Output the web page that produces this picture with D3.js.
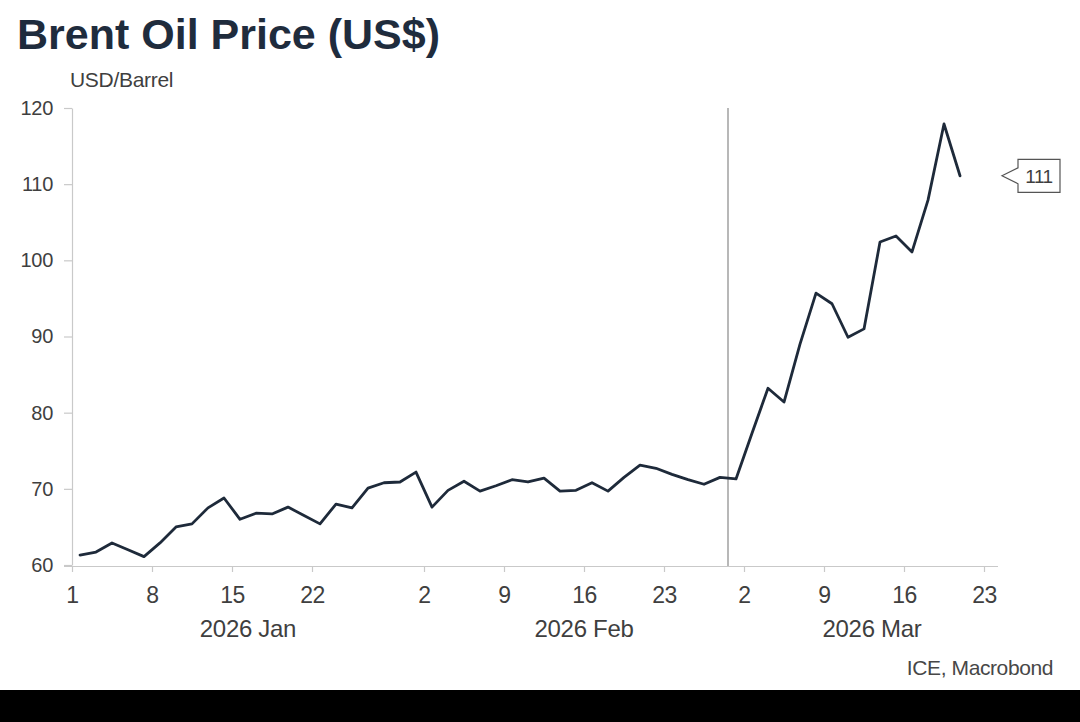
<!DOCTYPE html>
<html>
<head>
<meta charset="utf-8">
<script src="https://cdn.jsdelivr.net/npm/d3@7"></script>
<style>
  html, body { margin: 0; padding: 0; background: #fff; }
  svg { display: block; font-family: "Liberation Sans", Arial, sans-serif; }
</style>
</head>
<body>
<svg id="chart" width="1080" height="722"></svg>
<script>
// ---- data ----
const dates = [
  "2026-01-01","2026-01-02","2026-01-05","2026-01-06","2026-01-07","2026-01-08","2026-01-09",
  "2026-01-12","2026-01-13","2026-01-14","2026-01-15","2026-01-16",
  "2026-01-19","2026-01-20","2026-01-21","2026-01-22","2026-01-23",
  "2026-01-26","2026-01-27","2026-01-28","2026-01-29","2026-01-30",
  "2026-02-02","2026-02-03","2026-02-04","2026-02-05","2026-02-06",
  "2026-02-09","2026-02-10","2026-02-11","2026-02-12","2026-02-13",
  "2026-02-16","2026-02-17","2026-02-18","2026-02-19","2026-02-20",
  "2026-02-23","2026-02-24","2026-02-25","2026-02-26","2026-02-27",
  "2026-03-02","2026-03-03","2026-03-04","2026-03-05","2026-03-06",
  "2026-03-09","2026-03-10","2026-03-11","2026-03-12","2026-03-13",
  "2026-03-16","2026-03-17","2026-03-18","2026-03-19"
];
const brent = [
  61.3, 61.7, 62.9, 62.0, 61.1, 62.9, 65.0,
  65.4, 67.5, 68.8, 66.0, 66.8,
  66.7, 67.6, 66.5, 65.4, 68.0,
  67.5, 70.1, 70.8, 70.9, 72.2,
  67.6, 69.8, 71.0, 69.7, 70.4,
  71.2, 70.9, 71.4, 69.7, 69.8,
  70.8, 69.7, 71.5, 73.1, 72.7,
  71.9, 71.2, 70.6, 71.5, 71.3,
  77.3, 83.2, 81.4, 89.0, 95.7,
  94.3, 89.9, 91.0, 102.4, 103.2,
  101.1, 107.9, 117.9, 111.1
];
const xTickDates = ["2026-01-01","2026-01-08","2026-01-15","2026-01-22",
  "2026-02-02","2026-02-09","2026-02-16","2026-02-23",
  "2026-03-02","2026-03-09","2026-03-16","2026-03-23"];
const monthLabels = ["2026 Jan","2026 Feb","2026 Mar"];
const monthStarts = ["2026-01-01","2026-02-01","2026-03-01","2026-03-24"];
const yTicks = [60, 70, 80, 90, 100, 110, 120];
const eventDate = "2026-02-27";
const lastLabel = "111";
const title = "Brent Oil Price (US$)";
const unitLabel = "USD/Barrel";
const source = "ICE, Macrobond";

// ---- business-day index (weekdays counted from 2026-01-01) ----
const parse = d3.utcParse("%Y-%m-%d");
const origin = parse("2026-01-01");
function bizIndex(s) {
  const d = parse(s);
  return d3.utcDays(origin, d).filter(t => t.getUTCDay() !== 0 && t.getUTCDay() !== 6).length;
}

const svg = d3.select("#chart");
const navy = "#1e2a3a";
const axisGray = "#c9c9c9";
const textGray = "#3f3f3f";
const ff = "'Liberation Sans', Arial, sans-serif";

const x = d3.scaleLinear().domain([0, 58]).range([72, 1000]);
const y = d3.scaleLinear().domain([60, 120]).range([565, 108]);

// title
svg.append("text").attr("x", 17).attr("y", 49)
  .attr("font-size", 43).attr("font-weight", "bold").attr("fill", "#1f2c3d")
  .text(title);
svg.append("text").attr("x", 70).attr("y", 87)
  .attr("font-size", 21).attr("fill", textGray).attr("letter-spacing", -0.3)
  .text(unitLabel);

// y axis
const yAxis = svg.append("g").attr("transform", "translate(72,0)")
  .call(d3.axisLeft(y).tickValues(yTicks).tickSize(8).tickPadding(11).tickSizeOuter(0));
yAxis.select(".domain").attr("stroke", axisGray).attr("stroke-width", 1.2);
yAxis.selectAll(".tick line").attr("stroke", axisGray).attr("stroke-width", 1.2);
yAxis.selectAll(".tick text").attr("font-size", 20).attr("fill", textGray)
  .attr("font-family", ff).attr("letter-spacing", -0.3);

// x axis
const xAxis = svg.append("g").attr("transform", "translate(0,566)")
  .call(d3.axisBottom(x)
    .tickValues(xTickDates.map(bizIndex))
    .tickFormat((d, i) => String(parse(xTickDates[i]).getUTCDate()))
    .tickSize(6).tickPadding(15).tickSizeOuter(0));
xAxis.select(".domain").attr("stroke", axisGray).attr("stroke-width", 1.2)
  .attr("d", `M64,0.5H${x(58) - 2}`);
xAxis.selectAll(".tick line").attr("stroke", axisGray).attr("stroke-width", 1.2);
xAxis.selectAll(".tick text").attr("font-size", 23).attr("fill", textGray)
  .attr("font-family", ff).attr("letter-spacing", -0.5);

// month labels
monthLabels.forEach((m, i) => {
  const a = x(bizIndex(monthStarts[i]));
  const b = x(bizIndex(monthStarts[i + 1]));
  svg.append("text").attr("x", (a + b) / 2).attr("y", 637)
    .attr("text-anchor", "middle").attr("font-size", 24).attr("fill", textGray)
    .attr("letter-spacing", -0.3)
    .text(m);
});

// event line
svg.append("line")
  .attr("x1", x(bizIndex(eventDate))).attr("x2", x(bizIndex(eventDate)))
  .attr("y1", y(120)).attr("y2", 566)
  .attr("stroke", "#9a9a9a").attr("stroke-width", 1.4);

// series line
const line = d3.line()
  .x((d, i) => x(bizIndex(dates[i]) + 0.5))
  .y(d => y(d));
svg.append("path").datum(brent)
  .attr("d", line)
  .attr("fill", "none").attr("stroke", navy).attr("stroke-width", 2.8)
  .attr("stroke-linejoin", "round").attr("stroke-linecap", "round");

// last value callout
const lastVal = brent[brent.length - 1];
const ly = y(lastVal);
const tipX = 1002, bx0 = 1018, bx1 = 1060, bh = 33;
svg.append("path")
  .attr("d", `M${tipX},${ly} L${bx0},${ly - 8} L${bx0},${ly - bh / 2} L${bx1},${ly - bh / 2} L${bx1},${ly + bh / 2} L${bx0},${ly + bh / 2} L${bx0},${ly + 8} Z`)
  .attr("fill", "#fff").attr("stroke", "#555").attr("stroke-width", 1.2);
svg.append("text").attr("x", (bx0 + bx1) / 2).attr("y", ly + 7)
  .attr("text-anchor", "middle").attr("font-size", 19).attr("fill", textGray)
  .attr("letter-spacing", -0.5)
  .text(lastLabel);

// source
svg.append("text").attr("x", 1053).attr("y", 675)
  .attr("text-anchor", "end").attr("font-size", 21).attr("fill", "#474747")
  .attr("letter-spacing", -0.4)
  .text(source);

// bottom black band
svg.append("rect").attr("x", 0).attr("y", 690).attr("width", 1080).attr("height", 32)
  .attr("fill", "#000");
</script>
</body>
</html>
